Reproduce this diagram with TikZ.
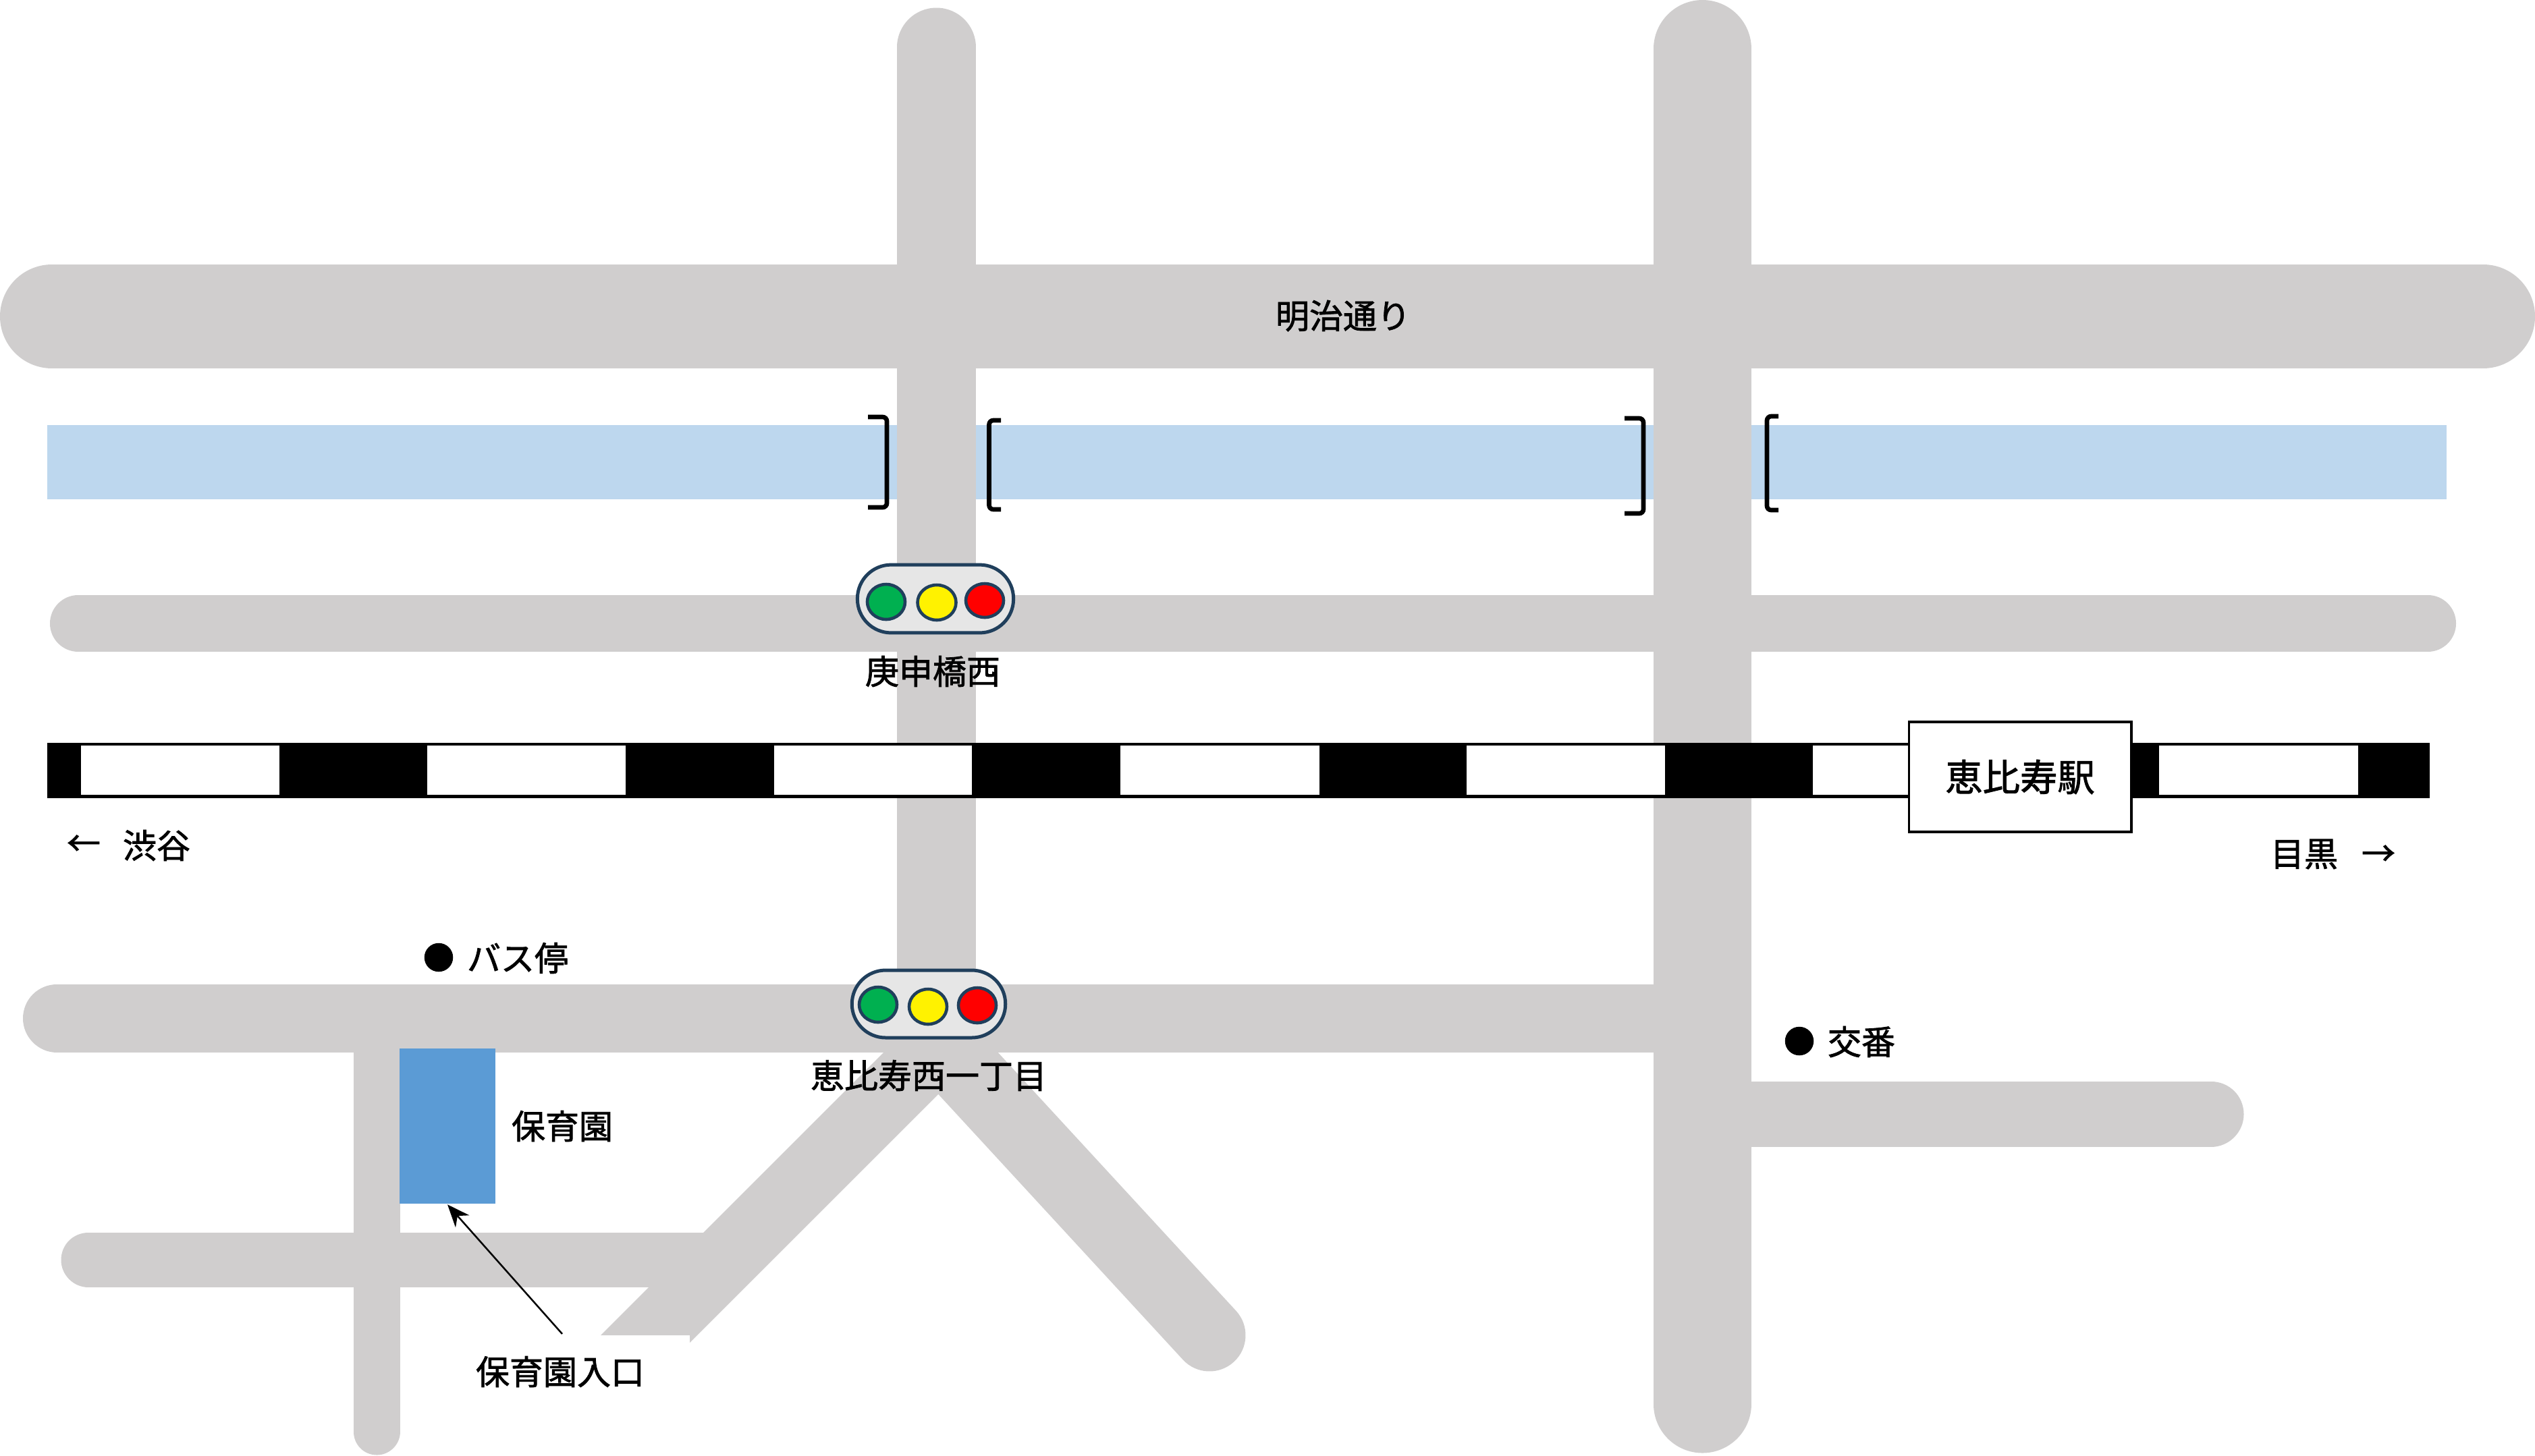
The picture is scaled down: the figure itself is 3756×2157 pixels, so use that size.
\documentclass[tikz,border=0pt]{standalone}
\usepackage{fontspec}
\setmainfont{Noto Sans CJK JP}[FakeBold=1.6,RawFeature={embolden=1.6}]
\usetikzlibrary{arrows.meta}
\definecolor{roadgray}{HTML}{D0CECE}
\definecolor{riverblue}{HTML}{BDD7EE}
\definecolor{nurseryblue}{HTML}{5B9BD5}
\definecolor{signalline}{HTML}{203F5C}
\definecolor{signalbody}{HTML}{E6E6E6}
\definecolor{signalgreen}{HTML}{00B050}
\tikzset{
  road/.style={draw=roadgray,line width=#1*0.24pt,line cap=round},
  riverband/.style={fill=riverblue,draw=none},
  railwhite/.style={fill=white,draw=none},
  bracketline/.style={draw=black,line width=1.6pt,rounded corners=1.5pt},
  label/.style={inner sep=0pt,font=\fontsize{12}{12}\selectfont},
  lamp/.style={draw=signalline,line width=1.1pt,fill=#1},
  signalbox/.style={draw=signalline,line width=1.2pt,fill=signalbody,rounded corners=12pt},
  dot/.style={circle,fill=black,inner sep=0pt,minimum size=10.2pt},
}
\begin{document}
\begin{tikzpicture}[x=0.24pt,y=-0.24pt]
\useasboundingbox (0,0) rectangle (3756,2157);
% river
\fill[riverband] (70,630) rectangle (3625,740);
% roads
\draw[road=117] (1387.5,70) -- (1387.5,1510);
\draw[road=145] (2522.5,72.5) -- (2522.5,2081);
\draw[road=154] (77,469) -- (3679,469);
\draw[road=84] (116,924) -- (3597,924);
\draw[road=101] (84.5,1509) -- (2522,1509);
\draw[road=97] (2522,1651) -- (3276,1651);
\draw[road=69] (558,1510) -- (558,2122);
\draw[road=81] (131,1867) -- (1060,1867);
\fill[roadgray] (890,1979) -- (1349,1520) -- (1492,1520) -- (1022,1990) -- (1022,1979) -- cycle;
\draw[road=107] (1792,1979) -- (1360,1510);
% brackets
\draw[bracketline] (1286,618) -- (1314,618) -- (1314,752) -- (1286,752);
\draw[bracketline] (1483,623) -- (1465.5,623) -- (1465.5,755) -- (1483,755);
\draw[bracketline] (2407,620) -- (2435,620) -- (2435,761) -- (2407,761);
\draw[bracketline] (2635,617) -- (2618,617) -- (2618,756) -- (2635,756);
% railway
\fill[black] (70,1101) rectangle (3600,1183);
\foreach \sx/\ex in {120/414,633/927,1147/1440,1660/1955,2173/2467,2686/2840,3199/3494}
  \fill[railwhite] (\sx,1105) rectangle (\ex,1178);
\node[draw=black,line width=0.9pt,fill=white,inner sep=0pt,minimum width=79pt,minimum height=39pt,
  font=\fontsize{13.3}{13.3}\selectfont] (station) at (2993,1151.5) {恵比寿駅};
% signal 1
\node[signalbox,minimum width=55.5pt,minimum height=24.2pt,inner sep=0pt] (signalA) at (1386,887.5) {};
\draw[lamp=signalgreen] (1313,892) ellipse [x radius=28,y radius=26];
\draw[lamp=yellow] (1388,893) ellipse [x radius=28.5,y radius=26];
\draw[lamp=red] (1459,890) ellipse [x radius=28,y radius=25];
% signal 2
\node[signalbox,minimum width=54.6pt,minimum height=24pt,inner sep=0pt] (signalB) at (1376,1488) {};
\draw[lamp=signalgreen] (1301,1489) ellipse [x radius=28,y radius=26];
\draw[lamp=yellow] (1375,1492) ellipse [x radius=28,y radius=26];
\draw[lamp=red] (1448,1490) ellipse [x radius=28,y radius=26];
% nursery
\node[fill=nurseryblue,inner sep=0pt,minimum width=34.3pt,minimum height=55.4pt] (nursery) at (663,1669) {};
\coordinate (entrytail) at (833,1977);
\draw[black,line width=0.6pt,-{Stealth[length=8pt,width=6.5pt]}] (entrytail) -- (nursery.south);
% labels
\node[label] (meiji) at (1990,468) {明治通り};
\node[label] (koshin) at (1382,995) {庚申橋西};
\node[label] (ebisunishi) at (1376,1594) {恵比寿西一丁目};
\node[dot] (busdot) at (650,1419) {};
\node[label] (bus) at (767,1420) {バス停};
\node[label] (nurserylabel) at (833,1669) {保育園};
\node[label] (entrylabel) at (830,2033) {保育園入口};
\node[dot] (koban) at (2666,1543) {};
\node[label] (kobanlabel) at (2758,1544) {交番};
\node[label] (shibuya) at (232,1253) {渋谷};
\node[label] (shibuyaarrow) at (124,1253) {←};
\node[label] (meguro) at (3414,1266) {目黒};
\node[label] (meguroarrow) at (3524,1268) {→};
\end{tikzpicture}
\end{document}
